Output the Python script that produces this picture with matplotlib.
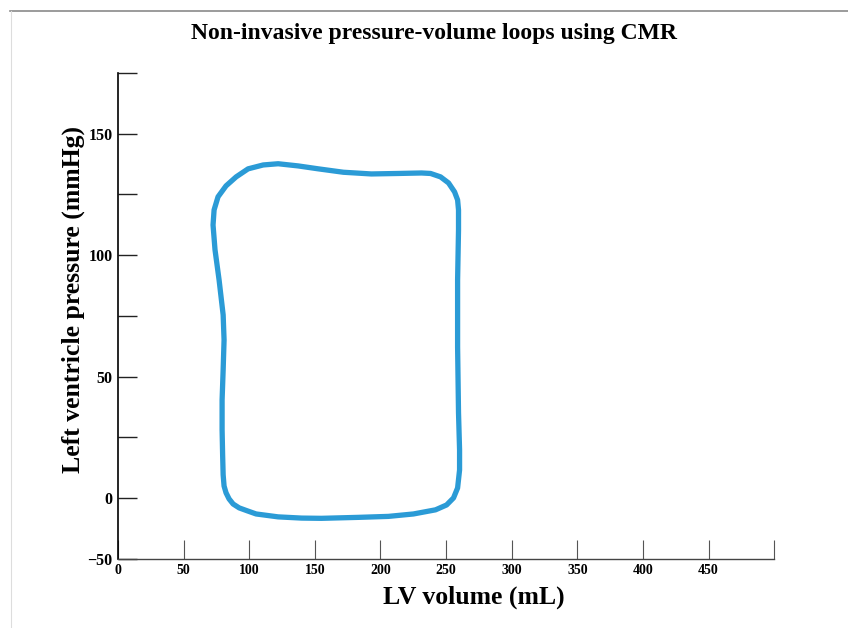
import matplotlib
matplotlib.use("Agg")
import matplotlib.pyplot as plt
from matplotlib.lines import Line2D

plt.rcParams['font.family'] = ['Liberation Serif', 'DejaVu Serif']
plt.rcParams['font.weight'] = 'bold'

# traced loop (LV volume in mL, pressure in mmHg), starting mid left side
volume = [79.4, 79.4, 79.8, 80.2, 80.9, 82.4, 84.7, 87.8, 92.4, 98.5, 105.3,
          122.1, 140.0, 155.0, 183.2, 206.1,
          225.2, 242.0, 250.4, 255.7, 258.8, 260.3,
          260.3, 259.5, 258.8, 258.8, 259.5, 259.5, 258.8, 256.5, 251.9,
          245.8, 238.2, 231.3,
          213.7, 193.1, 171.8, 152.7, 137.4, 122.1, 110.7, 99.2, 90.1, 82.4,
          76.3, 73.3, 72.5, 74.0, 77.1, 80.2, 80.9, 80.2]
pressure = [40.4, 28.1, 17.8, 9.6, 5.0, 2.2, -0.3, -2.4, -4.0, -5.2, -6.5,
            -7.7, -8.2, -8.3, -7.9, -7.5,
            -6.5, -4.8, -2.8, 0.1, 4.2, 11.6,
            19.9, 35.1, 62.2, 89.8, 110.4, 118.6, 122.7, 126.0, 129.7,
            132.2, 133.6, 133.8,
            133.6, 133.4, 134.1, 135.5, 136.7, 137.6, 137.1, 135.5, 132.2, 128.5,
            124.0, 118.6, 112.4, 102.2, 89.8, 75.4, 65.1, 52.8]

xticks = [0, 50, 100, 150, 200, 250, 300, 350, 400, 450, 500]
xticklabels = ['0', '50', '100', '150', '200', '250', '300', '350', '400', '450', '']
yticks = [-25, 0, 25, 50, 75, 100, 125, 150, 175]
yticklabels = ['\u221250', '0', '', '50', '', '100', '', '150', '']

fig = plt.figure(figsize=(8.48, 6.28), dpi=100)
ax = fig.add_axes([0.139, 0.110, 0.774, 0.774])

# closed outline so the ends join cleanly
ax.fill(volume, pressure, fill=False, edgecolor='#2b9bd6', linewidth=3.8,
        joinstyle='round')

ax.set_xlim(0, 500)
ax.set_ylim(-25, 175)
ax.set_xticks(xticks)
ax.set_xticklabels(xticklabels)
ax.set_yticks(yticks)
ax.set_yticklabels(yticklabels)

for s in ['top', 'right']:
    ax.spines[s].set_visible(False)
ax.spines['left'].set_linewidth(1.2)
ax.spines['bottom'].set_linewidth(1.0)
ax.spines['bottom'].set_color('#444444')

ax.tick_params(axis='x', direction='in', length=14, width=0.8, color='#555555',
               pad=4, labelsize=10)
ax.tick_params(axis='y', direction='in', length=14, width=1.0, color='#222222',
               pad=4, labelsize=11.5)

ax.set_xlabel('LV volume (mL)', fontsize=18.5, fontweight='bold')
ax.set_ylabel('Left ventricle pressure (mmHg)', fontsize=18.5, fontweight='bold')
ax.xaxis.set_label_coords(0.543, -0.055)
ax.yaxis.set_label_coords(-0.05, 0.533)

fig.text(434 / 848, 1 - 33 / 628, 'Non-invasive pressure-volume loops using CMR',
         ha='center', va='center', fontsize=17, fontweight='bold')

# page frame lines
fig.add_artist(Line2D([10 / 848, 1], [1 - 11 / 628] * 2, transform=fig.transFigure,
                      color='#8a8a8a', linewidth=1.2))
fig.add_artist(Line2D([11 / 848] * 2, [0, 1 - 11 / 628], transform=fig.transFigure,
                      color='#dddddd', linewidth=0.8))

fig.savefig('out.png', dpi=100)
